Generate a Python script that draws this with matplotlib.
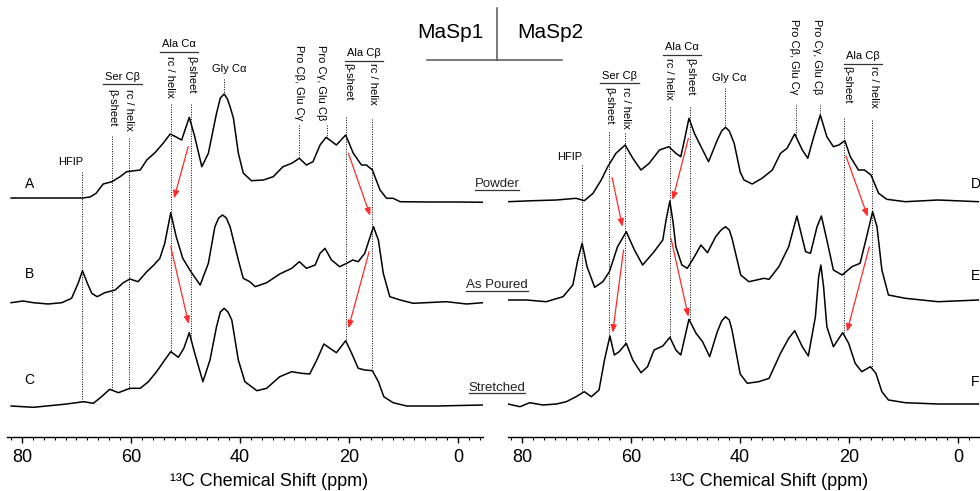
"""
13C CP-MAS spectra of MaSp1 / MaSp2 films (powder, as poured, stretched).
"""
import numpy as np
import matplotlib
matplotlib.use('Agg')
import matplotlib.pyplot as plt
from matplotlib.lines import Line2D

plt.rcParams['font.family'] = ['Liberation Sans', 'DejaVu Sans']

W, H = 980, 491      # figure size in pixels
AXIS_PX = 437        # vertical pixel position of the ppm axis line

# ---- spectra: chemical shift (ppm) and intensity above baseline (a.u.) ----
# MaSp1 powder
ppm_A = [82.0, 75.0, 70.0, 68.9, 67.5, 66.4, 65.1, 63.5, 62.0, 60.8, 58.3, 57.1, 55.6, 54.1, 52.8,
         51.6, 50.7, 49.3, 48.3, 47.0, 45.8, 44.3, 43.6, 42.9, 42.3, 41.8, 41.2, 40.3, 39.4, 37.9,
         35.7, 33.9, 32.1, 30.5, 29.1, 27.8, 26.6, 25.3, 24.2, 22.3, 20.6, 19.2, 17.7, 16.8, 15.7,
         14.3, 13.1, 11.9, 10.6, 5.0, 0.0, -5.3]
int_A = [2, 2, 2, 2, 3, 6.7, 16, 18.3, 23.3, 28.3, 30, 40, 47.3, 56.7, 66,
         62.7, 60, 82.7, 63.3, 33.3, 46.7, 86.7, 102, 106, 101, 93, 82, 47, 27, 19.3,
         20, 23.3, 33.3, 36.7, 41.7, 35, 38.3, 55, 62.7, 55, 65, 46.7, 35, 35, 30,
         10, 1.7, 1.7, -1.7, -2, -2, -2.3]
# MaSp1 as poured
ppm_B = [82.0, 79.8, 77.9, 75.2, 72.7, 70.9, 69.7, 68.9, 68.0, 67.2, 66.2, 64.8, 62.9, 61.4, 60.2,
         58.7, 57.1, 55.8, 54.7, 53.8, 52.7, 51.7, 50.5, 49.0, 47.3, 45.8, 44.6, 43.9, 43.2, 42.5,
         41.8, 40.3, 39.4, 38.2, 37.2, 35.1, 32.7, 30.5, 29.1, 27.8, 26.2, 25.3, 24.4, 23.2, 21.7,
         20.4, 19.3, 18.3, 17.1, 16.3, 15.5, 14.6, 13.7, 12.5, 10.6, 8.2, 2.1, -1.6, -4.6]
int_B = [0.3, 2, 0.3, -1, 0.3, 4.7, 19.7, 32.3, 19.7, 9.7, 6.3, 10.3, 13, 20.3, 24,
         21.3, 31.3, 38, 44.7, 59.7, 90.3, 66.3, 44.7, 31.3, 18, 39.7, 76.3, 85, 88, 85,
         76, 43, 24.7, 21.3, 16.3, 20.3, 29, 34.7, 41.3, 34.7, 38, 49.7, 54.7, 43, 36.3,
         39.7, 43, 41.3, 49.7, 63, 76.3, 63, 29.7, 6.3, 3, -0.3, 1.3, -1, 0.3]
# MaSp1 stretched
ppm_C = [82.0, 77.9, 74.9, 71.8, 68.7, 66.9, 65.4, 63.9, 62.3, 60.2, 58.3, 56.8, 55.3, 53.8, 52.7,
         51.3, 50.3, 49.3, 48.3, 46.8, 45.5, 44.3, 43.6, 42.9, 42.2, 41.5, 40.3, 39.1, 36.9, 35.1,
         32.7, 30.5, 28.7, 27.2, 25.9, 24.6, 23.5, 22.3, 20.6, 19.5, 18.3, 17.1, 15.7, 14.6, 13.6,
         11.9, 9.4, 3.9, -4.6]
int_C = [0, -1.3, 0.3, 2, 4.3, 2.7, 9.3, 16.7, 13.3, 17.7, 17.7, 24.3, 34.3, 46, 54.3,
         48.7, 57.7, 73.3, 52.7, 24.3, 46, 79.3, 94, 97.7, 94, 86, 46, 24.3, 15.3, 17.7,
         29.3, 34.3, 32.7, 32, 46, 62, 57.7, 53.3, 65.3, 52.7, 37.7, 36, 35.3, 24.3, 9.3,
         3.3, 0, 0, 1]
# MaSp2 powder
ppm_D = [82.6, 78.0, 73.7, 70.1, 68.6, 67.0, 65.5, 64.3, 62.8, 61.1, 59.7, 58.2, 56.7, 54.8, 53.1,
         51.8, 50.9, 50.1, 49.4, 48.4, 47.5, 45.8, 44.2, 43.4, 42.7, 42.0, 41.1, 40.0, 39.3, 37.8,
         36.0, 34.1, 32.6, 31.4, 30.0, 28.6, 27.6, 26.5, 25.3, 24.1, 22.9, 21.9, 20.8, 19.8, 18.3,
         17.2, 16.0, 14.6, 13.1, 9.7, 3.7, -3.7]
int_D = [0.3, 1.3, 2, 3.7, 1.3, 8.7, 22, 35.3, 48.7, 57, 43.7, 32, 38.7, 52, 55.3,
         48.7, 45.3, 65.3, 83.7, 68.7, 58.7, 40.3, 62, 71, 74.7, 71, 58.7, 30, 22, 18,
         23.7, 32, 48.7, 53.7, 68, 52, 43.7, 65.3, 87, 65.3, 55.3, 57, 61.3, 45.3, 32,
         32, 27, 8.7, 2.7, 0.3, 2, 0.3]
# MaSp2 as poured
ppm_E = [82.6, 79.2, 75.6, 72.5, 70.7, 69.8, 69.0, 68.1, 66.7, 65.2, 64.0, 62.5, 60.9, 59.4, 57.9,
         55.8, 54.2, 53.6, 52.9, 52.3, 51.8, 50.7, 49.7, 48.4, 47.2, 46.0, 44.5, 43.5, 42.7, 42.0,
         41.5, 39.9, 38.4, 35.6, 34.7, 32.9, 31.1, 29.6, 28.0, 27.1, 25.9, 25.1, 24.1, 22.9, 21.3,
         19.5, 18.0, 16.8, 15.7, 14.9, 14.0, 12.8, 9.7, 3.7, -3.7]
int_E = [0, 0, -1.7, 3.3, 15, 40, 56.7, 33.3, 12.7, 18.3, 28.3, 53.3, 68.3, 50, 35,
         48.3, 60, 80, 99, 77, 53.3, 35, 31.7, 43.3, 55, 47.3, 63.3, 70, 73.3, 70,
         61.7, 25, 18.3, 21.7, 20.7, 33.3, 53.3, 84, 48.3, 46.7, 73.3, 84, 60, 30, 25,
         33.3, 36.7, 63.3, 88.3, 73.3, 30, 5, 1.7, -1.7, 0]
# MaSp2 stretched
ppm_F = [82.6, 80.4, 78.6, 76.2, 73.7, 71.9, 70.1, 68.6, 67.3, 65.9, 64.9, 63.9, 63.1, 62.2, 60.9,
         59.7, 58.2, 57.0, 55.8, 54.2, 52.9, 51.8, 50.9, 49.4, 48.1, 46.9, 45.6, 44.2, 43.4, 42.7,
         42.0, 41.5, 40.0, 38.7, 36.6, 34.7, 32.6, 31.1, 30.0, 28.6, 27.5, 26.2, 25.6, 25.2, 24.7,
         24.1, 22.9, 21.2, 20.1, 18.9, 17.7, 16.1, 15.1, 14.0, 12.8, 9.7, 3.7, -3.7]
int_F = [1, -1.7, 2.3, 0, 1, 3.3, 8.3, 13.3, 8.3, 15, 45, 69, 50, 53.3, 61.7,
         45, 32.3, 38.3, 55, 59, 67.7, 55, 50, 85.7, 71.7, 63.3, 48.3, 73.3, 84, 88.3,
         85, 75, 31, 21.7, 23.3, 26.7, 51.7, 66.7, 74.3, 58.3, 49, 88.3, 128.3, 140, 118.3,
         78.3, 58.3, 72.3, 61.7, 41.7, 33.3, 38.3, 31.7, 13.3, 5, 2.3, 1, 1]

letters_left = ['A', 'B', 'C']
letters_right = ['D', 'E', 'F']
sample_names = ['Powder', 'As Poured', 'Stretched']
baseline_left = [200, 303, 406]      # pixel row of each trace baseline
baseline_right = [202, 300, 405]

# assignment lines: (ppm, top pixel row, index of trace where the line stops)
marks_left = [(68.9, 171.7, 2), (63.5, 136, 2), (60.4, 138, 2), (52.7, 104, 2), (49.0, 104, 2),
              (42.9, 79, 0), (29.1, 125, 0), (24.1, 125, 0), (20.6, 117, 2), (15.7, 119, 2)]
marks_right = [(69.0, 165, 2), (64.1, 131.7, 2), (61.1, 133, 2), (52.8, 106.7, 2), (49.2, 106.7, 2),
               (42.7, 88, 0), (29.7, 105, 0), (25.3, 105, 0), (21.0, 118, 2), (15.8, 120, 2)]

# vertical labels: (text, ppm, top pixel row)
vlabels_left = [('β-sheet', 63.5, 89), ('rc / helix', 60.4, 89), ('rc / helix', 52.8, 56),
                ('β-sheet', 49.0, 56), ('Pro Cβ, Glu Cγ', 29.1, 45), ('Pro Cγ, Glu Cβ', 25.1, 45),
                ('β-sheet', 20.1, 63), ('rc / helix', 15.5, 63)]
vlabels_right = [('β-sheet', 64.0, 86.7), ('rc / helix', 60.9, 86.7), ('rc / helix', 53.1, 58.3),
                 ('β-sheet', 49.2, 58.3), ('Pro Cβ, Glu Cγ', 30.2, 19), ('Pro Cγ, Glu Cβ', 25.9, 19),
                 ('β-sheet', 20.4, 66), ('rc / helix', 15.5, 66)]
# horizontal labels: (text, ppm, centre pixel row, underlined)
hlabels_left = [('HFIP', 71.0, 161.7, False), ('Ser Cβ', 61.6, 76.7, True), ('Ala Cα', 51.2, 44, True),
                ('Gly Cα', 42.0, 69, False), ('Ala Cβ', 17.2, 53.3, True)]
hlabels_right = [('HFIP', 71.2, 156.7, False), ('Ser Cβ', 62.2, 75.7, True), ('Ala Cα', 50.7, 47.3, True),
                 ('Gly Cα', 42.0, 78.3, False), ('Ala Cβ', 17.4, 56, True)]

# red arrows: (ppm start, pixel row start, ppm end, pixel row end)
arrows_left = [(49.5, 146.7, 52.1, 198.3), (52.7, 246.7, 49.4, 324),
               (20.1, 153.3, 16.1, 215.7), (16.3, 251.7, 20.1, 328.3)]
arrows_right = [(63.5, 177.7, 61.6, 226.7), (49.5, 138.3, 52.4, 200),
                (61.4, 250, 63.4, 332.7), (52.7, 238.3, 49.5, 316.7),
                (20.6, 156, 16.6, 216.7), (16.3, 246.7, 20.4, 331.7)]


def py(row):
    """pixel row -> data y"""
    return H - row


fig = plt.figure(figsize=(W / 100, H / 100), dpi=100)
underlined = []


def draw_panel(left_px, right_px, xlim, traces, baselines, marks, vlabels, hlabels, arrows,
               letters, letter_x, letter_rows, letter_ha):
    ax = fig.add_axes([left_px / W, (H - AXIS_PX) / H, (right_px - left_px) / W, AXIS_PX / H])
    ax.set_xlim(*xlim)
    ax.set_ylim(H - AXIS_PX, H)
    ax.patch.set_alpha(0)
    for s in ['top', 'left', 'right']:
        ax.spines[s].set_visible(False)
    ax.spines['bottom'].set_linewidth(1.0)
    ax.set_yticks([])
    ax.set_xticks([80, 60, 40, 20, 0])
    ax.set_xticks(np.arange(-4, 83, 2), minor=True)
    ax.tick_params(axis='x', which='major', length=4, width=1.0, labelsize=13, pad=5)
    ax.tick_params(axis='x', which='minor', length=2, width=0.8)

    offsets = [H - b for b in baselines]
    for (ppm, inten), off in zip(traces, offsets):
        ax.plot(ppm, np.array(inten) + off, color='black', lw=1.1, solid_joinstyle='round')

    for ppm0, top, idx in marks:
        ppm, inten = traces[idx]
        bottom = offsets[idx] + np.interp(ppm0, ppm[::-1], inten[::-1])
        ax.plot([ppm0, ppm0], [py(top), bottom], color='black', lw=0.7, ls=(0, (1, 1.5)))

    for txt, x, top in vlabels:
        ax.text(x, py(top), txt, rotation=270, ha='center', va='top', fontsize=8)
    for txt, x, row, ul in hlabels:
        t = ax.text(x, py(row), txt, ha='center', va='center', fontsize=8)
        if ul:
            underlined.append((t, row + 7.5, 2, '#333333'))

    for x0, r0, x1, r1 in arrows:
        ax.annotate('', xy=(x1, py(r1)), xytext=(x0, py(r0)),
                    arrowprops=dict(arrowstyle='-|>,head_length=0.45,head_width=0.18',
                                    color='#ff2a2a', lw=0.9, shrinkA=0, shrinkB=0))

    for lab, row in zip(letters, letter_rows):
        ax.text(letter_x, py(row), lab, ha=letter_ha, va='center', fontsize=10)

    ax.text(34.7, py(481), '¹³C Chemical Shift (ppm)', ha='center', va='center',
            fontsize=13, clip_on=False)
    return ax


draw_panel(7, 483, (82.75, -4.6), [(ppm_A, int_A), (ppm_B, int_B), (ppm_C, int_C)],
           baseline_left, marks_left, vlabels_left, hlabels_left, arrows_left,
           letters_left, 78.6, [184, 274, 380], 'center')
draw_panel(508, 980, (82.6, -3.66), [(ppm_D, int_D), (ppm_E, int_E), (ppm_F, int_F)],
           baseline_right, marks_right, vlabels_right, hlabels_right, arrows_right,
           letters_right, -2.4, [184, 276, 382], 'left')

# sample names between the panels
for name, row in zip(sample_names, [184, 285, 387.7]):
    t = fig.text(497 / W, 1 - row / H, name, ha='center', va='center', fontsize=9.5, color='#222222')
    underlined.append((t, row + 5.5, 0, '#333333'))

# header
fig.text(450 / W, 1 - 33 / H, 'MaSp1', ha='center', va='center', fontsize=15)
fig.text(550 / W, 1 - 33 / H, 'MaSp2', ha='center', va='center', fontsize=15)
fig.add_artist(Line2D([497.3 / W, 497.3 / W], [1 - 8 / H, 1 - 60 / H], transform=fig.transFigure,
                      color='#555555', lw=1.1))
fig.add_artist(Line2D([426.7 / W, 561.7 / W], [1 - 60 / H, 1 - 60 / H], transform=fig.transFigure,
                      color='#555555', lw=1.1))

# underlines need the rendered text extents
fig.canvas.draw()
renderer = fig.canvas.get_renderer()
for t, row, ext, col in underlined:
    bb = t.get_window_extent(renderer)
    y = 1 - row / H
    fig.add_artist(Line2D([(bb.x0 - ext) / W, (bb.x1 + ext) / W], [y, y],
                          transform=fig.transFigure, color=col, lw=0.9))

fig.savefig('out.png', dpi=100)
